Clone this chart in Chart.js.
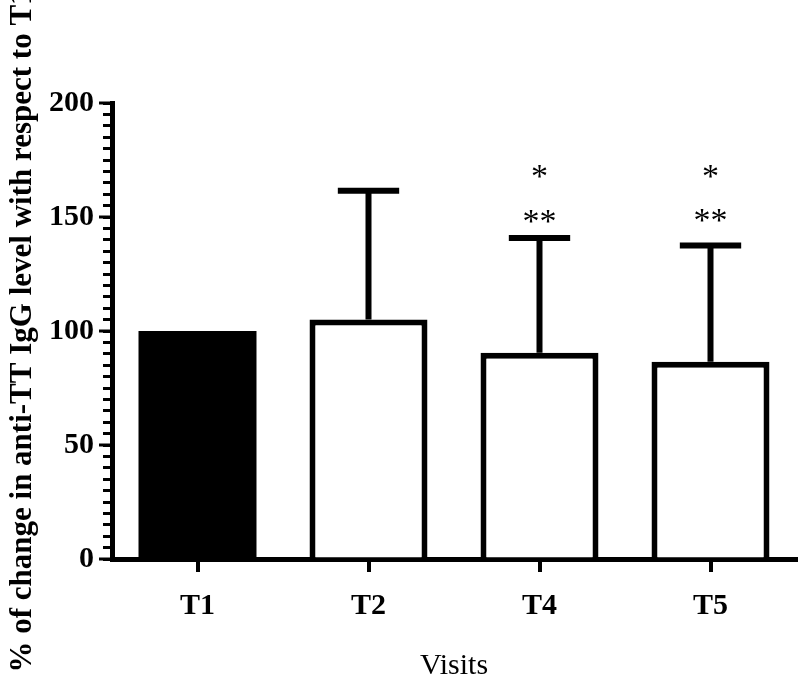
<!DOCTYPE html>
<html>
<head>
<meta charset="utf-8">
<script src="https://cdn.jsdelivr.net/npm/chart.js@4.4.1/dist/chart.umd.min.js"></script>
<style>
  html, body { margin: 0; padding: 0; background: #fff; }
  #wrap { width: 800px; height: 690px; }
</style>
</head>
<body>
<div id="wrap"><canvas id="visitsChart"></canvas></div>
<script>
// visits and mean % of anti-TT IgG relative to T1
const visits = ['T1', 'T2', 'T4', 'T5'];
const meanPct = [100, 105, 90.5, 86.5];
const sdUpper = [null, 161.5, 140.8, 137.5];

// significance marks above T4 and T5 (level in % units)
const starTop = ['', '', '*', '*'];
const starTopLevel = [null, null, 170.5, 170.5];
const starLow = ['', '', '**', '**'];
const starLowLevel = [null, null, 151, 151.5];

const yTicks = [0, 50, 100, 150, 200];

const serif = "'Liberation Serif', 'Times New Roman', serif";

const errorBars = {
    id: 'errorBars',
    afterDatasetsDraw(chart) {
        const ctx = chart.ctx;
        const meta = chart.getDatasetMeta(0);
        const y = chart.scales.y;
        ctx.save();
        ctx.strokeStyle = '#000';
        ctx.lineWidth = 6;
        meta.data.forEach((bar, i) => {
            if (sdUpper[i] == null) return;
            const top = y.getPixelForValue(sdUpper[i]);
            const half = bar.width * 0.26;
            ctx.beginPath();
            ctx.moveTo(bar.x, bar.y);
            ctx.lineTo(bar.x, top);
            ctx.moveTo(bar.x - half, top);
            ctx.lineTo(bar.x + half, top);
            ctx.stroke();
        });

        ctx.fillStyle = '#000';
        ctx.font = '34px ' + serif;
        ctx.textAlign = 'center';
        ctx.textBaseline = 'middle';
        meta.data.forEach((bar, i) => {
            if (starTop[i]) ctx.fillText(starTop[i], bar.x, y.getPixelForValue(starTopLevel[i]) + 8);
            if (starLow[i]) ctx.fillText(starLow[i], bar.x, y.getPixelForValue(starLowLevel[i]) + 8);
        });

        // longer marks at the labelled ticks
        ctx.lineWidth = 3;
        const left = chart.chartArea.left;
        yTicks.forEach(v => {
            const py = y.getPixelForValue(v);
            ctx.beginPath();
            ctx.moveTo(left - 13, py);
            ctx.lineTo(left, py);
            ctx.stroke();
        });
        ctx.restore();
    }
};

new Chart(document.getElementById('visitsChart'), {
    type: 'bar',
    data: {
        labels: visits,
        datasets: [{
            data: meanPct,
            backgroundColor: ['#000', '#fff', '#fff', '#fff'],
            borderColor: '#000',
            borderWidth: [0, 6, 6, 6],
            barPercentage: 0.69,
            categoryPercentage: 1
        }]
    },
    options: {
        responsive: true,
        maintainAspectRatio: false,
        animation: false,
        layout: { padding: { top: 103, right: 4, bottom: 6, left: 0 } },
        plugins: { legend: { display: false }, tooltip: { enabled: false } },
        scales: {
            x: {
                grid: { offset: false, drawOnChartArea: false, tickLength: 13, lineWidth: 4, color: '#000' },
                border: { color: '#000', width: 5 },
                ticks: { color: '#000', padding: 16, font: { family: serif, size: 30, weight: 'bold' } },
                title: {
                    display: true, text: 'Visits', color: '#000',
                    padding: { top: 8, bottom: 0 },
                    font: { family: serif, size: 30 }
                }
            },
            y: {
                min: 0,
                max: 200,
                afterFit: s => { s.width = 112; },
                grid: { drawOnChartArea: false, tickLength: 9, lineWidth: 3, color: '#000' },
                border: { color: '#000', width: 5 },
                ticks: {
                    stepSize: 5,
                    autoSkip: false,
                    maxTicksLimit: 100,
                    padding: 9,
                    color: '#000',
                    font: { family: serif, size: 30, weight: 'bold' },
                    callback: v => yTicks.includes(v) ? v : ''
                },
                title: {
                    display: true,
                    text: '% of change in anti-TT IgG level with respect to T1',
                    color: '#000',
                    padding: { top: 4, bottom: 0 },
                    font: { family: serif, size: 31, weight: 'bold' }
                }
            }
        }
    },
    plugins: [errorBars]
});
</script>
</body>
</html>
